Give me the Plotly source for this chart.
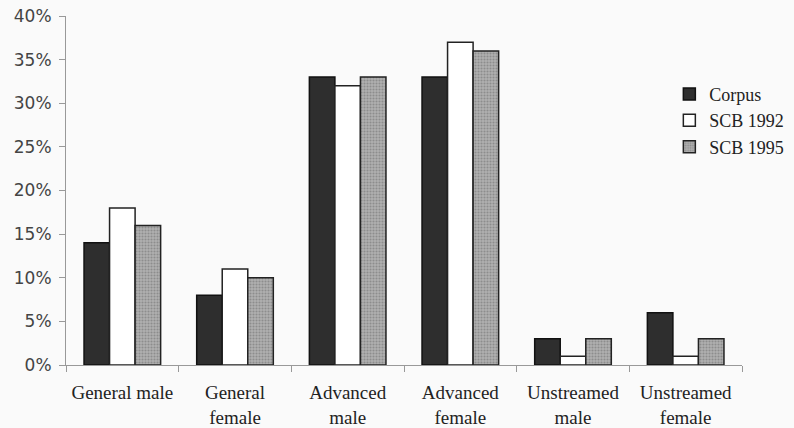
import plotly.graph_objects as go

categories = ["General male", "General<br>female", "Advanced<br>male", "Advanced<br>female",
              "Unstreamed<br>male", "Unstreamed<br>female"]
corpus = [14, 8, 33, 33, 3, 6]
scb1992 = [18, 11, 32, 37, 1, 1]
scb1995 = [16, 10, 33, 36, 3, 3]
y_ticks = [0, 5, 10, 15, 20, 25, 30, 35, 40]
y_tick_labels = [f"{v}%" for v in y_ticks]

fig = go.Figure()
fig.add_trace(go.Bar(name="Corpus", x=categories, y=corpus,
                     marker=dict(color="#2e2e2e", line=dict(color="#111111", width=1.5))))
fig.add_trace(go.Bar(name="SCB 1992", x=categories, y=scb1992,
                     marker=dict(color="#ffffff", line=dict(color="#222222", width=1.5))))
fig.add_trace(go.Bar(name="SCB 1995", x=categories, y=scb1995,
                     marker=dict(color="#9a9a9a", line=dict(color="#222222", width=1.5),
                                 pattern=dict(shape=".", fgcolor="#6a6a6a", bgcolor="#b0b0b0",
                                              size=3, solidity=0.4))))

fig.update_layout(
    width=794, height=428,
    margin=dict(l=66, r=52, t=16, b=63, autoexpand=False),
    paper_bgcolor="#fafafa", plot_bgcolor="#fafafa",
    barmode="group", bargap=0.32, bargroupgap=0,
    showlegend=True,
    legend=dict(xref="container", yref="container", x=0.843, y=0.823,
                xanchor="left", yanchor="top",
                font=dict(family="Liberation Serif", size=18, color="#222222"),
                bgcolor="rgba(0,0,0,0)", itemwidth=30, tracegroupgap=0),
    xaxis=dict(showline=True, linecolor="#999999", linewidth=1,
               ticks="outside", ticklen=6, tickcolor="#999999",
               tickson="boundaries", ticklabelstandoff=10,
               tickfont=dict(family="Liberation Serif", size=19, color="#222222"),
               showgrid=False),
    yaxis=dict(range=[0, 40], tickvals=y_ticks, ticktext=y_tick_labels,
               showline=True, linecolor="#999999", linewidth=1,
               ticks="outside", ticklen=6, tickcolor="#999999",
               ticklabelstandoff=4,
               tickfont=dict(family="DejaVu Sans", size=17, color="#444444"),
               showgrid=False, zeroline=False),
)

fig.write_html("out.html", config={"displayModeBar": False},
               post_script="document.body.style.margin='0';")
